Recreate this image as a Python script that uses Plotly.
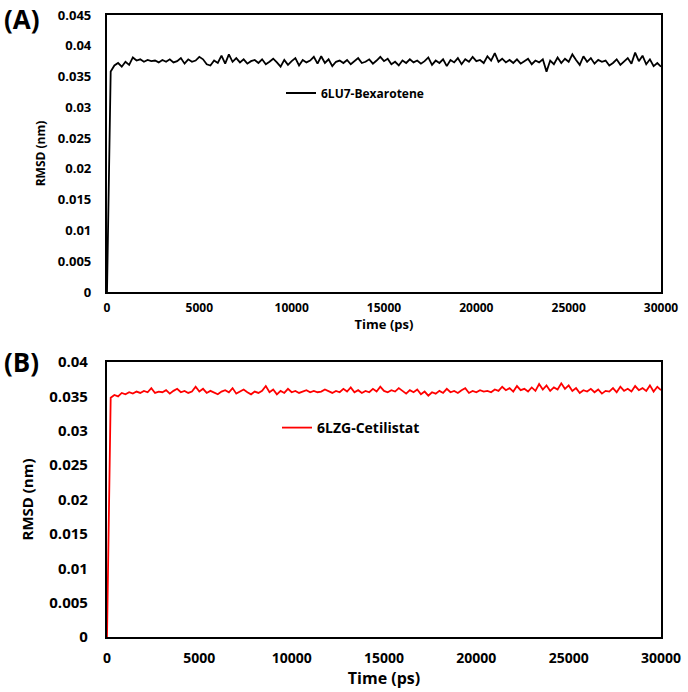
import plotly.graph_objects as go

# Time axis (ps), one frame every 200 ps
TIME = list(range(0, 30001, 200))

# RMSD (nm)
RMSD_BEXAROTENE = [
    0.0, 0.0358, 0.0368, 0.0372, 0.0366, 0.0374, 0.0369, 0.0381, 0.0376, 0.0378,
    0.0374, 0.0377, 0.0375, 0.0376, 0.0373, 0.0377, 0.0374, 0.0378, 0.0373, 0.0375,
    0.0380, 0.0371, 0.0378, 0.0374, 0.0376, 0.0382, 0.0378, 0.0370, 0.0368, 0.0376,
    0.0372, 0.0384, 0.0371, 0.0386, 0.0374, 0.0380, 0.0373, 0.0378, 0.0371, 0.0375,
    0.0377, 0.0372, 0.0378, 0.0370, 0.0374, 0.0379, 0.0373, 0.0366, 0.0377, 0.0369,
    0.0375, 0.0380, 0.0368, 0.0377, 0.0373, 0.0376, 0.0382, 0.0371, 0.0383, 0.0372,
    0.0378, 0.0367, 0.0374, 0.0376, 0.0372, 0.0377, 0.0370, 0.0375, 0.0380, 0.0372,
    0.0374, 0.0378, 0.0371, 0.0376, 0.0382, 0.0375, 0.0379, 0.0370, 0.0374, 0.0368,
    0.0376, 0.0372, 0.0378, 0.0373, 0.0376, 0.0371, 0.0375, 0.0381, 0.0369, 0.0376,
    0.0372, 0.0378, 0.0367, 0.0377, 0.0373, 0.0380, 0.0370, 0.0378, 0.0374, 0.0382,
    0.0375, 0.0377, 0.0372, 0.0383, 0.0376, 0.0388, 0.0374, 0.0379, 0.0373, 0.0377,
    0.0372, 0.0378, 0.0371, 0.0375, 0.0379, 0.0370, 0.0376, 0.0373, 0.0378, 0.0358,
    0.0376, 0.0370, 0.0381, 0.0372, 0.0379, 0.0374, 0.0386, 0.0377, 0.0369, 0.0383,
    0.0374, 0.0380, 0.0371, 0.0377, 0.0374, 0.0376, 0.0368, 0.0372, 0.0378, 0.0369,
    0.0375, 0.0380, 0.0371, 0.0389, 0.0375, 0.0384, 0.0370, 0.0378, 0.0367, 0.0372,
    0.0366,
]

# RMSD (nm)
RMSD_CETILISTAT = [
    0.0, 0.0348, 0.0352, 0.0350, 0.0355, 0.0353, 0.0356, 0.0354, 0.0357, 0.0355,
    0.0358, 0.0356, 0.0362, 0.0355, 0.0357, 0.0356, 0.0359, 0.0354, 0.0358, 0.0361,
    0.0356, 0.0358, 0.0355, 0.0357, 0.0364, 0.0357, 0.0361, 0.0355, 0.0358, 0.0356,
    0.0353, 0.0357, 0.0359, 0.0356, 0.0362, 0.0354, 0.0357, 0.0360, 0.0356, 0.0353,
    0.0357, 0.0355, 0.0358, 0.0365, 0.0356, 0.0360, 0.0353, 0.0358, 0.0355, 0.0361,
    0.0356, 0.0358, 0.0355, 0.0357, 0.0359, 0.0356, 0.0358, 0.0356, 0.0357, 0.0360,
    0.0357, 0.0355, 0.0358, 0.0356, 0.0361, 0.0357, 0.0363, 0.0356, 0.0359, 0.0355,
    0.0358, 0.0356, 0.0361, 0.0357, 0.0364, 0.0358, 0.0356, 0.0359, 0.0357, 0.0362,
    0.0358, 0.0354, 0.0359, 0.0356, 0.0360, 0.0353, 0.0357, 0.0351, 0.0356, 0.0354,
    0.0358, 0.0355, 0.0361, 0.0356, 0.0358, 0.0355, 0.0359, 0.0362, 0.0355, 0.0358,
    0.0356, 0.0359, 0.0357, 0.0358, 0.0356, 0.0360, 0.0358, 0.0364, 0.0359, 0.0362,
    0.0357, 0.0365, 0.0359, 0.0361, 0.0357, 0.0363, 0.0358, 0.0368, 0.0360, 0.0366,
    0.0358, 0.0363, 0.0360, 0.0369, 0.0361, 0.0366, 0.0358, 0.0362, 0.0355, 0.0359,
    0.0357, 0.0361, 0.0356, 0.0360, 0.0354, 0.0358, 0.0357, 0.0362, 0.0356, 0.0364,
    0.0358, 0.0361, 0.0357, 0.0365, 0.0359, 0.0362, 0.0358, 0.0366, 0.0357, 0.0364,
    0.0359,
]

Y_TICKS_A = [0, 0.005, 0.01, 0.015, 0.02, 0.025, 0.03, 0.035, 0.04, 0.045]
Y_TICKS_B = [0, 0.005, 0.01, 0.015, 0.02, 0.025, 0.03, 0.035, 0.04]
X_TICKS = [0, 5000, 10000, 15000, 20000, 25000, 30000]

W, H = 688, 692
FONT = "Open Sans"


def px_x(p):
    return p / W


def px_y(p):
    return 1 - p / H


fig = go.Figure()

# Add traces
fig.add_trace(go.Scatter(x=TIME, y=RMSD_BEXAROTENE, mode='lines', name='6LU7-Bexarotene',
                         line=dict(color='black', width=1.8), xaxis='x', yaxis='y',
                         legend='legend', showlegend=True))
fig.add_trace(go.Scatter(x=TIME, y=RMSD_CETILISTAT, mode='lines', name='6LZG-Cetilistat',
                         line=dict(color='#ff0000', width=1.8), xaxis='x2', yaxis='y2',
                         legend='legend2', showlegend=True))

axis_common = dict(showline=True, linecolor='black', linewidth=2.2, mirror=True,
                   showgrid=False, zeroline=False, ticks='', automargin=False)

x_text = [f'{v}' for v in X_TICKS]

fig.update_layout(
    width=W, height=H,
    margin=dict(l=0, r=0, t=0, b=0, autoexpand=False),
    paper_bgcolor='white', plot_bgcolor='white',
    font=dict(family=FONT, color='black'),
    showlegend=True,
    xaxis=dict(domain=[px_x(107), px_x(661)], range=[0, 30000], tickvals=X_TICKS,
               ticktext=x_text, anchor='y', tickfont=dict(size=12, weight='bold'),
               ticklabelstandoff=3,
               title=dict(text='Time (ps)', font=dict(size=13, weight='bold'), standoff=3),
               **axis_common),
    yaxis=dict(domain=[px_y(292), px_y(15)], range=[0, 0.045], tickvals=Y_TICKS_A,
               ticktext=[f'{v:g}' for v in Y_TICKS_A], anchor='x',
               tickfont=dict(size=13, weight='bold'), ticklabelstandoff=11,
               title=dict(text='RMSD (nm)', font=dict(size=12, weight='bold'), standoff=10),
               **axis_common),
    xaxis2=dict(domain=[px_x(107), px_x(661)], range=[0, 30000], tickvals=X_TICKS,
                ticktext=x_text, anchor='y2', tickfont=dict(size=14, weight='bold'),
                ticklabelstandoff=7,
                title=dict(text='Time (ps)', font=dict(size=16, weight='bold'), standoff=1),
                **axis_common),
    yaxis2=dict(domain=[px_y(637), px_y(362)], range=[0, 0.04], tickvals=Y_TICKS_B,
                ticktext=[f'{v:g}' for v in Y_TICKS_B], anchor='x2',
                tickfont=dict(size=15, weight='bold'), ticklabelstandoff=14,
                title=dict(text='RMSD (nm)', font=dict(size=15, weight='bold'), standoff=12),
                **axis_common),
    legend=dict(x=px_x(281), y=px_y(93), xanchor='left', yanchor='middle',
                bgcolor='rgba(0,0,0,0)', font=dict(size=12, weight='bold'),
                itemwidth=30, tracegroupgap=0),
    legend2=dict(x=px_x(277), y=px_y(428), xanchor='left', yanchor='middle',
                 bgcolor='rgba(0,0,0,0)', font=dict(size=14, weight='bold'),
                 itemwidth=30, tracegroupgap=0),
)

# Panel letters
fig.add_annotation(text='(A)', x=px_x(2), y=px_y(19), xref='paper', yref='paper',
                   xanchor='left', yanchor='middle', showarrow=False,
                   font=dict(size=26, weight='bold'))
fig.add_annotation(text='(B)', x=px_x(2), y=px_y(362), xref='paper', yref='paper',
                   xanchor='left', yanchor='middle', showarrow=False,
                   font=dict(size=26, weight='bold'))

assert len(TIME) == len(RMSD_BEXAROTENE) == len(RMSD_CETILISTAT)

# drop the page's default body margin so the figure sits at the top-left corner
fig.write_html("out.html", config={'displayModeBar': False},
               post_script="document.body.style.margin = '0';")
